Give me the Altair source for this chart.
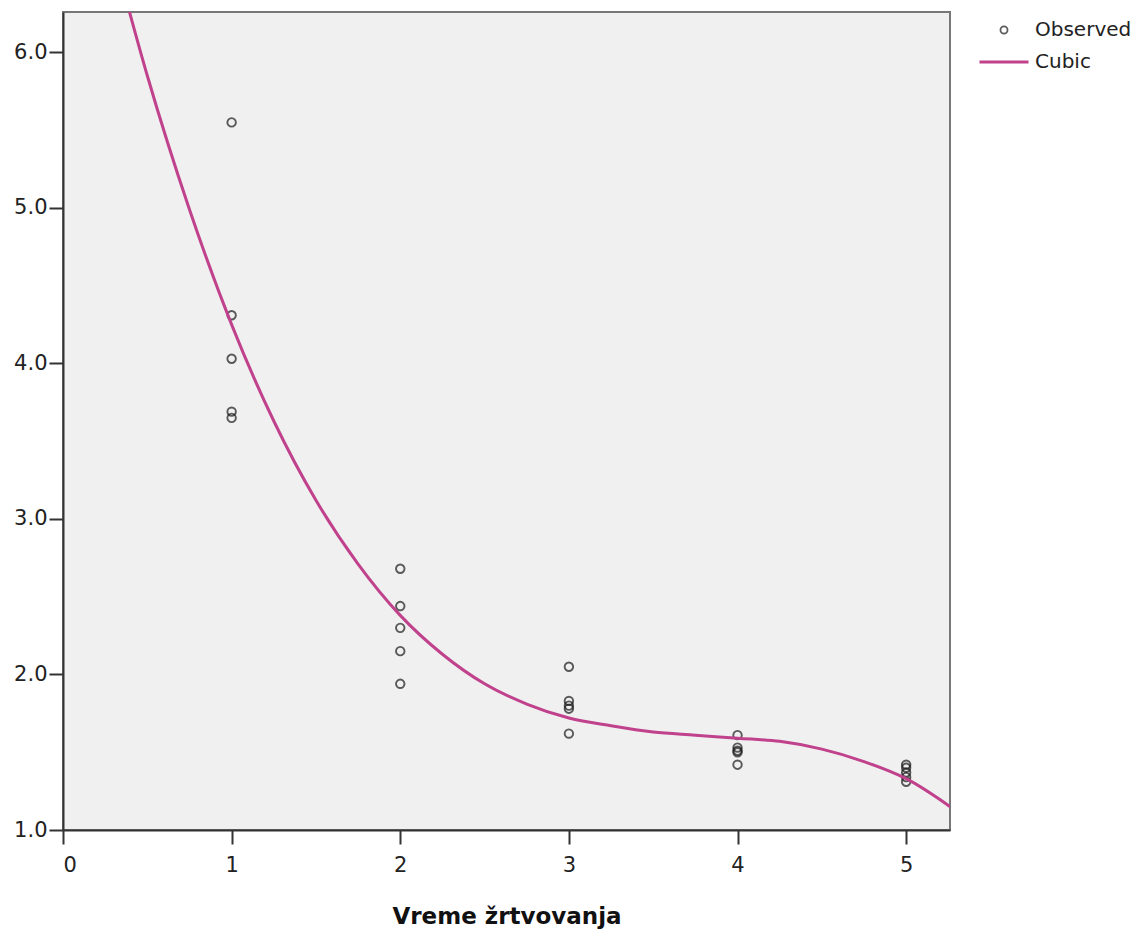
import altair as alt
import pandas as pd

# Observed points (x = Vreme žrtvovanja)
obs_x = [1, 1, 1, 1, 1,
         2, 2, 2, 2, 2,
         3, 3, 3, 3, 3,
         4, 4, 4, 4, 4,
         5, 5, 5, 5, 5]
obs_y = [5.55, 4.31, 4.03, 3.69, 3.65,
         2.68, 2.44, 2.30, 2.15, 1.94,
         2.05, 1.83, 1.80, 1.78, 1.62,
         1.61, 1.53, 1.51, 1.50, 1.42,
         1.42, 1.40, 1.37, 1.34, 1.31]

# Cubic fit curve
curve_x = [0.30, 0.50, 0.75, 1.00, 1.25, 1.50, 1.75, 2.00, 2.25, 2.50, 2.75,
           3.00, 3.25, 3.50, 3.75, 4.00, 4.25, 4.50, 4.75, 5.00, 5.30]
curve_y = [6.64, 5.85, 4.99, 4.25, 3.63, 3.12, 2.71, 2.38, 2.13, 1.94, 1.81,
           1.72, 1.67, 1.63, 1.61, 1.59, 1.57, 1.52, 1.44, 1.33, 1.12]

x_ticks = [0, 1, 2, 3, 4, 5]
y_ticks = [1.0, 2.0, 3.0, 4.0, 5.0, 6.0]

obs = pd.DataFrame({"x": obs_x, "y": obs_y, "s": ["Observed"] * len(obs_x)})
cur = pd.DataFrame({"x": curve_x, "y": curve_y, "s": ["Cubic"] * len(curve_x)})

FONT = "DejaVu Sans"
LINE = "#C0418C"

xs = alt.Scale(domain=[0, 5.26], nice=False, zero=False)
ys = alt.Scale(domain=[1.0, 6.26], nice=False, zero=False)

xaxis = alt.Axis(values=x_ticks, format="d", title="Vreme žrtvovanja", grid=False,
                 tickSize=14, labelPadding=10, titlePadding=30, titleFontWeight="bold",
                 titleFontSize=23, labelFontSize=21)
yaxis = alt.Axis(values=y_ticks, format=".1f", title=None, grid=False,
                 tickSize=14, labelPadding=2, labelFontSize=21)

points = alt.Chart(obs).mark_point(
    shape="circle", filled=False, stroke="#1a1a1a", strokeWidth=1.9, size=72
).encode(
    x=alt.X("x:Q", scale=xs, axis=xaxis),
    y=alt.Y("y:Q", scale=ys, axis=yaxis),
    shape=alt.Shape("s:N", scale=alt.Scale(domain=["Observed"], range=["circle"]),
                    legend=alt.Legend(title=None, orient="none", legendX=931, legendY=8,
                                      padding=0, symbolSize=50, symbolStrokeColor="#1a1a1a",
                                      symbolFillColor="transparent", symbolStrokeWidth=1.8,
                                      labelOffset=21, labelFontSize=20, labelColor="#222222")),
)

line = alt.Chart(cur).mark_line(strokeWidth=3, clip=True, interpolate="monotone").encode(
    x=alt.X("x:Q", scale=xs),
    y=alt.Y("y:Q", scale=ys),
    stroke=alt.Stroke("s:N", scale=alt.Scale(domain=["Cubic"], range=[LINE]),
                      legend=alt.Legend(title=None, orient="none", legendX=915, legendY=24,
                                        padding=0, symbolType="stroke", symbolSize=2401,
                                        symbolStrokeWidth=3, labelOffset=5,
                                        labelFontSize=20, labelColor="#222222")),
)

chart = alt.layer(points, line).properties(
    width=887, height=818,
    padding={"left": 5, "top": 4, "right": 0, "bottom": 5},
).configure_view(
    fill="#F0F0F0", stroke="#777777", strokeWidth=2
).configure_axis(
    domainColor="#333333", domainWidth=2, tickColor="#333333", tickWidth=2,
    labelColor="#222222", titleColor="#111111", labelFont=FONT, titleFont=FONT
).configure_legend(
    labelFont=FONT
)

chart.save("out.html", embed_options={"renderer": "svg", "actions": False})
